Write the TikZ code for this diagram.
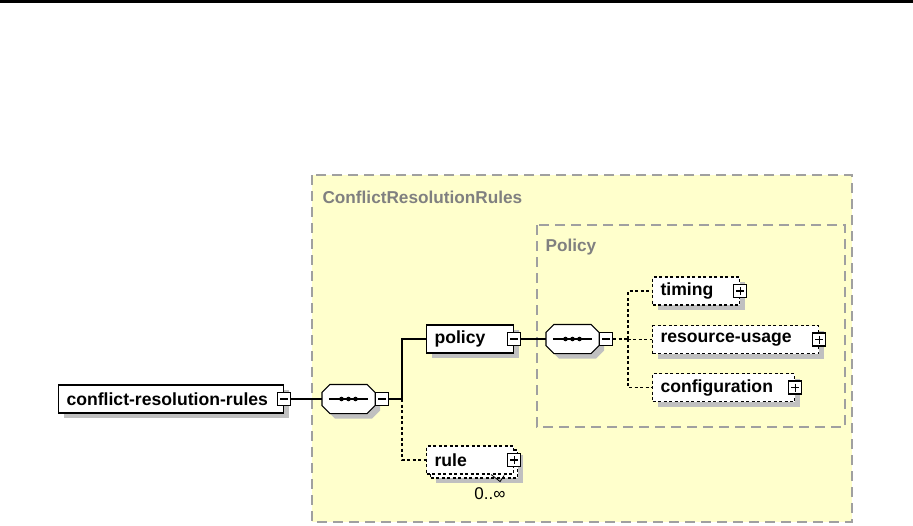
\documentclass[tikz,border=0pt]{standalone}
\usepackage{fontspec}
\setmainfont{Liberation Sans}
\usetikzlibrary{shadows}

\definecolor{groupfill}{RGB}{255,255,204}
\definecolor{groupline}{RGB}{160,160,160}
\definecolor{grouptext}{RGB}{128,128,128}
\definecolor{shadegray}{RGB}{192,192,192}

\tikzset{
  elem/.style={draw, fill=white, anchor=west, minimum height=28pt,
    inner xsep=8pt, inner ysep=0pt, align=left,
    font=\fontsize{17.6}{19}\selectfont\bfseries},
  shade/.style={general shadow={fill=shadegray, shadow xshift=5pt, shadow yshift=-5pt}},
  optional/.style={dash pattern=on 3pt off 2.5pt},
  group/.style={draw=groupline, fill=groupfill, line width=1.5pt, dash pattern=on 10pt off 6pt},
  grouptitle/.style={anchor=west, inner sep=0pt, text=grouptext,
    font=\fontsize{17.2}{19}\selectfont\bfseries},
  seq/.style={minimum width=52pt, minimum height=28pt, inner sep=0pt},
  toggle/.style={draw, fill=white, minimum size=13pt, inner sep=0pt, solid},
  minus/.style={toggle, path picture={
    \draw ([xshift=2.5pt]path picture bounding box.west) -- ([xshift=-2.5pt]path picture bounding box.east);}},
  plus/.style={toggle, path picture={
    \draw ([xshift=2.5pt]path picture bounding box.west) -- ([xshift=-2.5pt]path picture bounding box.east);
    \draw ([yshift=-2.5pt]path picture bounding box.north) -- ([yshift=2.5pt]path picture bounding box.south);}},
}

% octagon of a sequence compositor round node #1
\newcommand\seqoutline[1]{%
  \draw[fill=white, shade] ([xshift=8pt]#1.north west) -- ([xshift=-8pt]#1.north east)
    -- ([yshift=-8pt]#1.north east) -- ([yshift=8pt]#1.south east)
    -- ([xshift=-8pt]#1.south east) -- ([xshift=8pt]#1.south west)
    -- ([yshift=8pt]#1.south west) -- ([yshift=-8pt]#1.north west) -- cycle;
  \draw ([xshift=7pt]#1.west) -- ([xshift=-7pt]#1.east);
  \foreach \dx in {-7,0,7}
    \fill ([xshift=\dx pt]#1.center) circle (2.3pt);}

\begin{document}
\begin{tikzpicture}[x=1pt,y=-1pt,line width=1.1pt]
    \useasboundingbox (0,0) rectangle (913,525);
    \fill (0,0) rectangle (913,2.5);

    % groups
    \draw[group] (312,175) rectangle (852,522);
    \node[grouptitle] (crrtitle) at (322,197) {ConflictResolutionRules};
    \draw[group] (537,225) rectangle (845,427);
    \node[grouptitle] (policytitle) at (545,247) {Policy};

    % root element
    \node[elem, shade, text width=209pt] (crr) at (58,399) {conflict-resolution-rules};
    \node[minus] (crrx) at (crr.east) {};

    % first sequence
    \node[seq] (comp1) at (348.5,399) {};
    \seqoutline{comp1}
    \node[minus, anchor=west] (comp1x) at (comp1.east) {};
    \coordinate (fork1) at (402,399);

    \node[elem, shade, text width=71pt] (policy) at (426,339) {policy};
    \node[minus] (policyx) at (policy.east) {};
    \node[elem, shade, optional, text width=71pt] (ruleback) at (430,464) {\phantom{rule}};
    \node[elem, optional, text width=71pt] (rule) at (426,460) {rule};
    \node[plus] (rulex) at (rule.east) {};
    \node[font=\fontsize{17}{19}\selectfont] (rulecount) at (490,494) {0..∞};
    \draw[line width=0.8pt] ([xshift=-23pt]rule.south east) -- ++(9,7) -- ++(4,-6);

    \draw (crrx) -- (comp1);
    \draw (comp1x) -- (fork1);
    \draw (fork1) |- (policy);
    \draw[optional] (fork1) |- (rule);

    % second sequence
    \node[seq] (comp2) at (572.5,339) {};
    \seqoutline{comp2}
    \node[minus, anchor=west] (comp2x) at (comp2.east) {};
    \coordinate (fork2) at (628,339);

    \node[elem, shade, optional, text width=71pt] (timing) at (652,291) {timing};
    \node[plus] (timingx) at (timing.east) {};
    \node[elem, shade, optional, text width=150pt] (resource) at (652,339.5) {resource-usage};
    \node[plus] (resourcex) at (resource.east) {};
    \node[elem, shade, optional, text width=126pt] (config) at (652,387.5) {configuration};
    \node[plus] (configx) at (config.east) {};

    \draw (policyx) -- (comp2);
    \draw[optional] (comp2x) -- (fork2);
    \draw[optional] (fork2) |- (timing);
    \draw[optional] (fork2) |- (resource);
    \draw[optional] (fork2) |- (config);
\end{tikzpicture}
\end{document}
